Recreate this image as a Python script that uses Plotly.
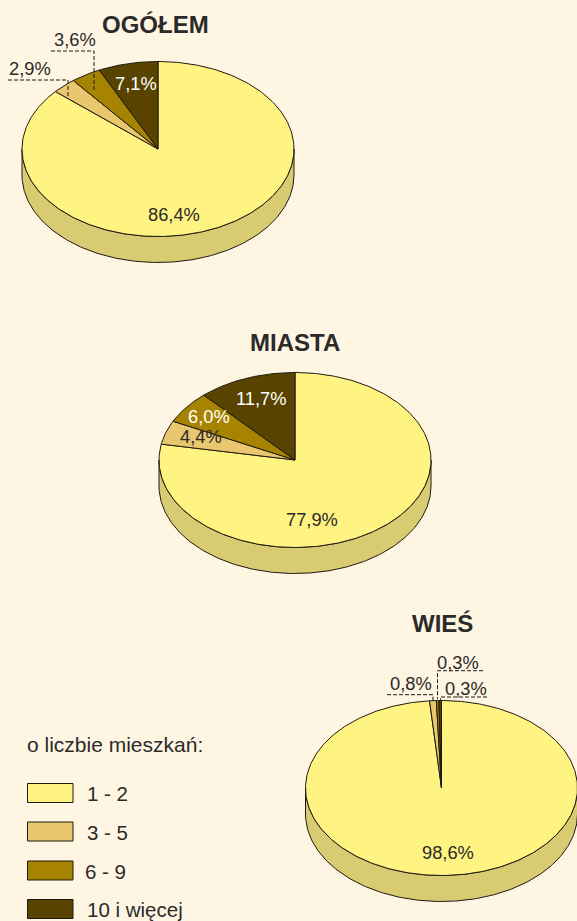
import numpy as np
import plotly.graph_objects as go

# ---- data ----
categories = ["1 - 2", "3 - 5", "6 - 9", "10 i więcej"]
ogolem = [86.4, 2.9, 3.6, 7.1]
miasta = [77.9, 4.4, 6.0, 11.7]
wies = [98.6, 0.8, 0.3, 0.3]
pie_titles = ["OGÓŁEM", "MIASTA", "WIEŚ"]
legend_title = "o liczbie mieszkań:"

# ---- styles / layout ----
BG = "#FEF5E3"
COLORS = ["#FFF482", "#E8C76F", "#A68300", "#584400"]
SIDE = "#D9CB72"
INK = "#2B2A29"
EDGE = "#1F1A10"
FONT = "Liberation Sans"
RX, RY, DEPTH = 136, 87.5, 26
# centre x, centre y, title pos, per-slice label positions and colours
PIES = [
    dict(vals=ogolem, cx=158, cy=149, title=(155, 24.5),
         pos=[(174, 214), (30, 68), (74.5, 39), (136, 83)],
         cols=[INK, INK, INK, "#FFFFFF"],
         leaders=[([8, 68, 68], [80, 80, 96]), ([51, 94, 94], [51, 51, 90])]),
    dict(vals=miasta, cx=295, cy=460, title=(294.5, 342),
         pos=[(312, 519), (201, 436), (209, 416), (260.5, 398)],
         cols=[INK, INK, "#FFFFFF", "#FFFFFF"],
         leaders=[]),
    dict(vals=wies, cx=441.5, cy=788, title=(442, 623),
         pos=[(448, 852), (411, 683), (458, 662), (465.5, 688)],
         cols=[INK, INK, INK, INK],
         leaders=[([387, 433, 433], [694.7, 694.7, 702]),
                  ([483, 437.5, 437.5], [670.7, 670.7, 699]),
                  ([487, 440.5, 440.5], [697, 697, 700])]),
]
LEG_Y = [793, 831.5, 870.5, 909]
LEG_TX = [85, 84.5, 83, 85]

fig = go.Figure()
ann = []


def add_poly(x, y, color, name):
    fig.add_trace(go.Scatter(x=x, y=y, mode="lines", fill="toself", fillcolor=color,
                             line=dict(color=EDGE, width=1), name=name,
                             hoverinfo="skip", showlegend=False))


def text(x, y, s, size, color=INK, bold=False, anchor="center"):
    ann.append(dict(x=x, y=y, xref="x", yref="y", text=f"<b>{s}</b>" if bold else s,
                    showarrow=False, xanchor=anchor, yanchor="middle",
                    font=dict(family=FONT, size=size, color=color)))


for pie, title in zip(PIES, pie_titles):
    cx, cy = pie["cx"], pie["cy"]
    # side wall
    t = np.linspace(-np.pi / 2, np.pi / 2, 200)
    xs = cx + RX * np.sin(t)
    ys = cy + RY * np.cos(t)
    add_poly(np.r_[xs, xs[::-1], xs[0]], np.r_[ys, ys[::-1] + DEPTH, ys[0]], SIDE, title + " bok")
    # slices, clockwise from twelve o'clock
    start = 0.0
    for val, col, cat in zip(pie["vals"], COLORS, categories):
        a = np.linspace(start, start + val, max(3, int(val * 4))) / 100 * 2 * np.pi
        add_poly(np.r_[cx, cx + RX * np.sin(a), cx], np.r_[cy, cy - RY * np.cos(a), cy], col, cat)
        start += val
    # labels
    for val, p, c in zip(pie["vals"], pie["pos"], pie["cols"]):
        text(p[0], p[1], f"{val:.1f}%".replace(".", ","), 18.3, c)
    text(*pie["title"], title, 24, bold=True)
    for lx, ly in pie["leaders"]:
        fig.add_trace(go.Scatter(x=lx, y=ly, mode="lines", hoverinfo="skip", showlegend=False,
                                 line=dict(color=EDGE, width=1, dash="4px,2px")))

# legend
text(25, 744, legend_title, 21, anchor="left")
shapes = []
for cat, col, y, tx in zip(categories, COLORS, LEG_Y, LEG_TX):
    shapes.append(dict(type="rect", xref="x", yref="y", x0=27.5, x1=73, y0=y - 9.5, y1=y + 9.5,
                       fillcolor=col, line=dict(color=EDGE, width=1)))
    text(tx, y + 0.5, cat, 20.5, anchor="left")

fig.update_layout(
    width=577, height=921, autosize=False,
    margin=dict(l=0, r=0, t=0, b=0),
    paper_bgcolor=BG, plot_bgcolor=BG,
    xaxis=dict(range=[0, 577], visible=False, fixedrange=True),
    yaxis=dict(range=[921, 0], visible=False, fixedrange=True),
    annotations=ann, shapes=shapes, showlegend=False,
)
fig.write_html("out.html", config=dict(displayModeBar=False),
               post_script="document.body.style.margin='0';document.documentElement.style.overflow='hidden';"
                           "document.body.style.background='" + BG + "';")
